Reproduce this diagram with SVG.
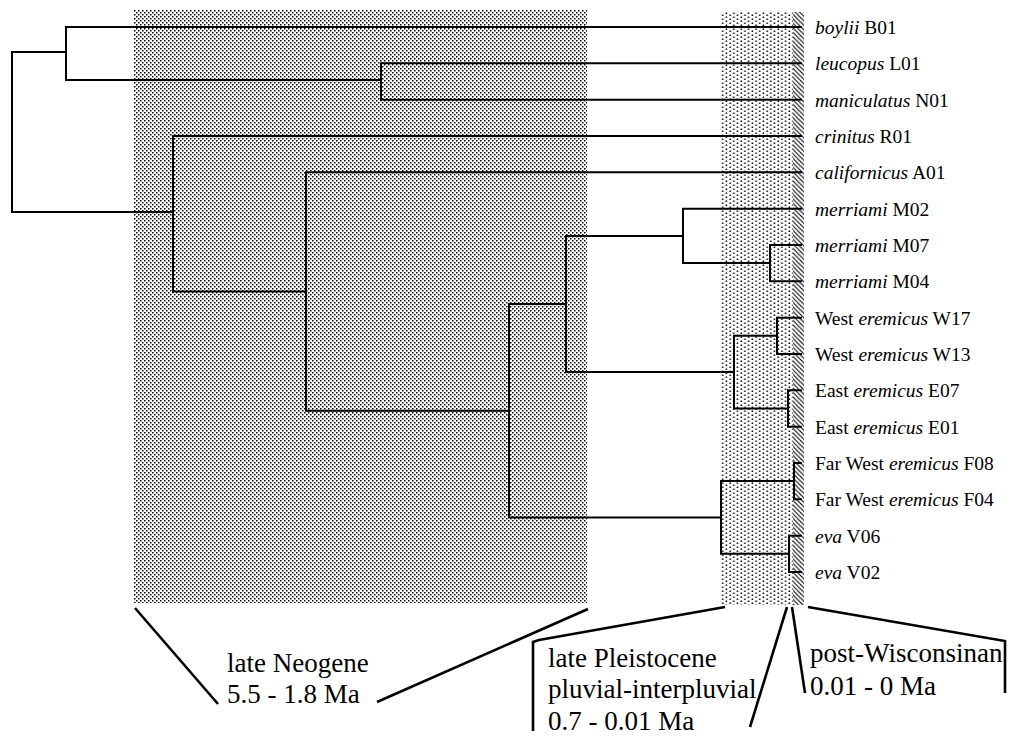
<svg xmlns="http://www.w3.org/2000/svg" width="1010" height="736" viewBox="0 0 1010 736">
<style>
.br{fill:none;stroke:#000;stroke-width:2;stroke-linejoin:miter;stroke-linecap:square}
.ann{fill:none;stroke:#000;stroke-width:2.6;stroke-linejoin:miter}
.lab{font-family:"Liberation Serif","Times New Roman",serif;font-size:19.5px;fill:#000}
.big{font-family:"Liberation Serif","Times New Roman",serif;font-size:27px;fill:#000}
.i{font-style:italic}
</style>
<defs>
<pattern id="dense" width="4" height="4" patternUnits="userSpaceOnUse">
<rect x="0" y="0" width="1.5" height="1.5" fill="#000"/>
<rect x="2" y="2" width="1.5" height="1.5" fill="#000"/>
</pattern>
<pattern id="sparse" width="7.4" height="8" patternUnits="userSpaceOnUse">
<rect x="0.5" y="0.5" width="1.5" height="1.5" fill="#000"/>
<rect x="0.5" y="4.5" width="1.5" height="1.5" fill="#000"/>
<rect x="4.2" y="2.5" width="1.5" height="1.5" fill="#000"/>
<rect x="4.2" y="6.5" width="1.5" height="1.5" fill="#000"/>
</pattern>
<pattern id="hatch" width="4.5" height="4.5" patternUnits="userSpaceOnUse">
<path d="M-1,-1 L5.5,5.5 M-1,3.5 L1,5.5 M3.5,-1 L5.5,1" stroke="#000" stroke-width="1.1"/>
</pattern>
</defs>
<rect width="1010" height="736" fill="#fff"/>
<g id="periods">
<rect id="neogene-band" x="134" y="10" width="453" height="593" fill="url(#dense)"/>
<rect id="pleistocene-band" x="720" y="12" width="73" height="593" fill="url(#sparse)"/>
<rect id="postwisconsinan-band" x="793" y="12" width="11" height="593" fill="url(#hatch)"/>
</g>
<g id="connectors">
<path class="br" d="M66,52 H12 V212 H173"/>
<path class="br" d="M801,27 H66 V80 H381"/>
<path class="br" d="M801,63.3 H381 V99.7 H801"/>
<path class="br" d="M801,136 H173 V291.5 H306"/>
<path class="br" d="M801,172.3 H306 V410.8 H509"/>
<path class="br" d="M566,304 H509 V517.5 H721"/>
<path class="br" d="M683,236 H566 V372 H734"/>
<path class="br" d="M801,208.7 H683 V263 H770"/>
<path class="br" d="M801,245 H770 V281.3 H801"/>
<path class="br" d="M777,335.8 H734 V408.5 H788"/>
<path class="br" d="M801,317.7 H777 V354 H801"/>
<path class="br" d="M801,390.3 H788 V426.7 H801"/>
<path class="br" d="M794,481 H721 V553.8 H789"/>
<path class="br" d="M801,463 H794 V499.3 H801"/>
<path class="br" d="M801,535.7 H789 V572 H801"/>
</g>
<g id="leaf-B01"><text class="lab" x="815" y="34"><tspan class="i">boylii</tspan> B01</text></g>
<g id="leaf-L01"><text class="lab" x="815" y="70.3"><tspan class="i">leucopus</tspan> L01</text></g>
<g id="leaf-N01"><text class="lab" x="815" y="106.7"><tspan class="i">maniculatus</tspan> N01</text></g>
<g id="leaf-R01"><text class="lab" x="815" y="143"><tspan class="i">crinitus</tspan> R01</text></g>
<g id="leaf-A01"><text class="lab" x="815" y="179.3"><tspan class="i">californicus</tspan> A01</text></g>
<g id="leaf-M02"><text class="lab" x="815" y="215.7"><tspan class="i">merriami</tspan> M02</text></g>
<g id="leaf-M07"><text class="lab" x="815" y="252"><tspan class="i">merriami</tspan> M07</text></g>
<g id="leaf-M04"><text class="lab" x="815" y="288.3"><tspan class="i">merriami</tspan> M04</text></g>
<g id="leaf-W17"><text class="lab" x="815" y="324.7">West <tspan class="i">eremicus</tspan> W17</text></g>
<g id="leaf-W13"><text class="lab" x="815" y="361">West <tspan class="i">eremicus</tspan> W13</text></g>
<g id="leaf-E07"><text class="lab" x="815" y="397.3">East <tspan class="i">eremicus</tspan> E07</text></g>
<g id="leaf-E01"><text class="lab" x="815" y="433.7">East <tspan class="i">eremicus</tspan> E01</text></g>
<g id="leaf-F08"><text class="lab" x="815" y="470">Far West <tspan class="i">eremicus</tspan> F08</text></g>
<g id="leaf-F04"><text class="lab" x="815" y="506.3">Far West <tspan class="i">eremicus</tspan> F04</text></g>
<g id="leaf-V06"><text class="lab" x="815" y="542.7"><tspan class="i">eva</tspan> V06</text></g>
<g id="leaf-V02"><text class="lab" x="815" y="579"><tspan class="i">eva</tspan> V02</text></g>
<g id="annotations">
<path class="ann" d="M135,608 L218,704"/>
<path class="ann" d="M377,702 L588,609"/>
<path class="ann" d="M533,731 L533,642 L539,640 L725,607"/>
<path class="ann" d="M750,727 L787,607"/>
<path class="ann" d="M792,607 L805,693"/>
<path class="ann" d="M808,607 L1005,641 L1005,693"/>
</g>
<g id="label-neogene"><text class="big" x="227" y="672">late Neogene</text><text class="big" x="227" y="703">5.5 - 1.8 Ma</text></g>
<g id="label-pleistocene"><text class="big" x="548" y="667">late Pleistocene</text><text class="big" x="548" y="698">pluvial-interpluvial</text><text class="big" x="548" y="730">0.7 - 0.01 Ma</text></g>
<g id="label-postwisconsinan"><text class="big" x="810" y="662">post-Wisconsinan</text><text class="big" x="810" y="695">0.01 - 0 Ma</text></g>
</svg>
